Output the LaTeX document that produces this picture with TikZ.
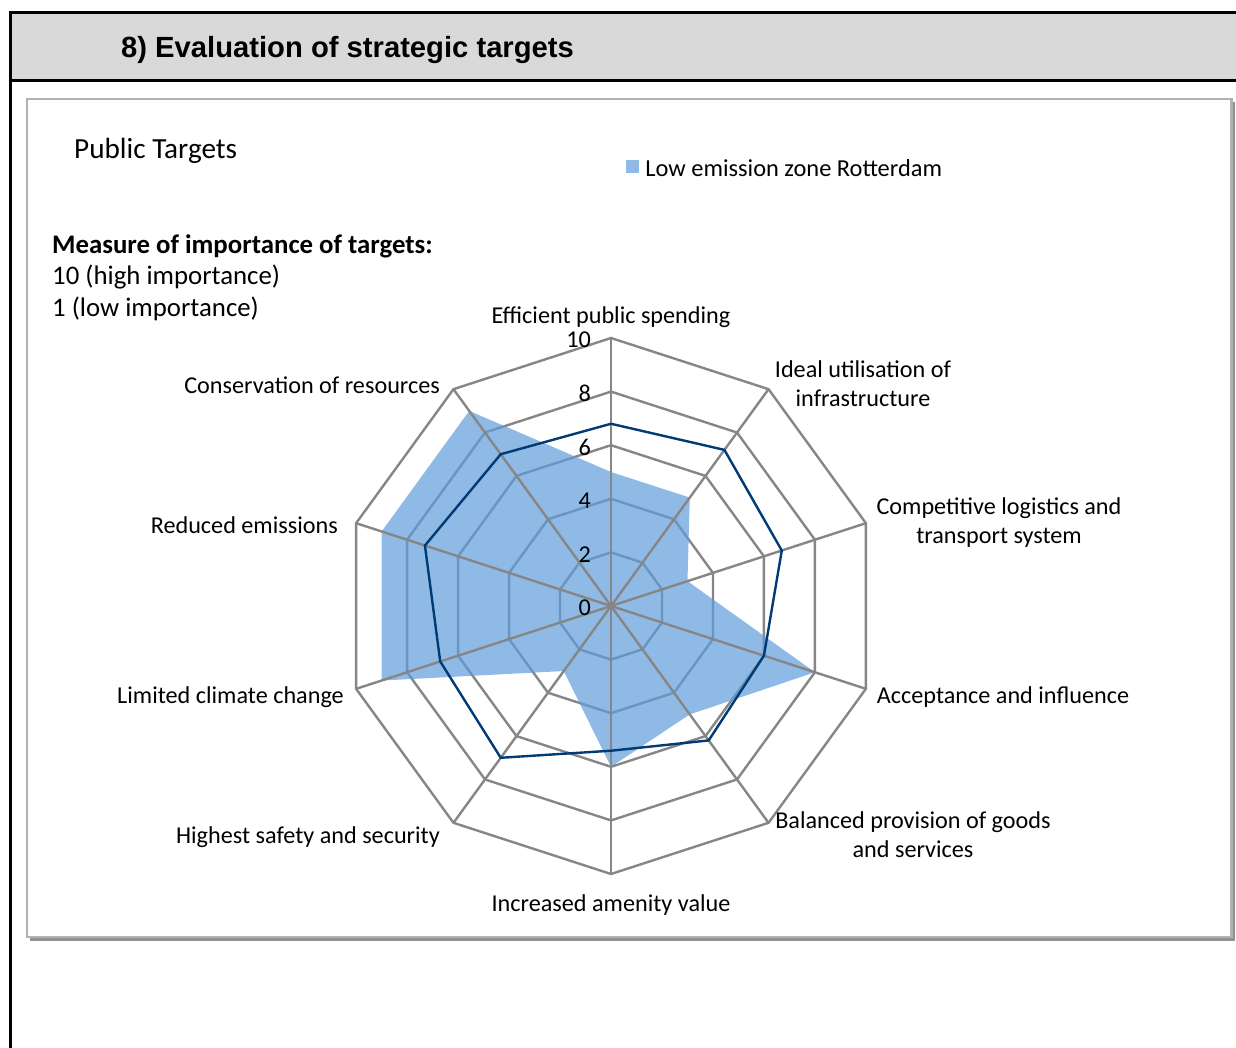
\documentclass[tikz,border=0pt]{standalone}
\usepackage{fontspec}
\setmainfont{Carlito}
\newfontfamily\headerFont{Liberation Sans}
\usetikzlibrary{positioning}
\tikzstyle{pixels} = [x = 1pt, y = -1pt]
\definecolor{gridGrey}{RGB}{134,134,134}
\definecolor{areaBlue}{RGB}{95,156,218}
\definecolor{keyBlue}{RGB}{143,186,229}
\definecolor{lineBlue}{RGB}{0,59,117}
\definecolor{headerGrey}{RGB}{217,217,217}
\definecolor{boxGrey}{RGB}{178,178,178}
\definecolor{shadowGrey}{RGB}{145,145,145}
\tikzstyle{frameLine} = [color=black, line width=3pt]
\tikzstyle{boxLine} = [color=boxGrey, line width=2.5pt]
\tikzstyle{boxShadow} = [color=shadowGrey, line width=2.5pt]
\tikzstyle{gridLine} = [color=gridGrey, line width=2.4pt, line join=miter]
\tikzstyle{areaFill} = [fill=areaBlue, fill opacity=0.7]
\tikzstyle{scoreLine} = [color=lineBlue, line width=2.4pt, line join=miter]
\tikzstyle{plainText} = [inner sep=0pt, yshift=-2pt]
\tikzstyle{axisLabel} = [plainText, font=\fontsize{24.2}{29}\selectfont, align=center]
\tikzstyle{tickLabel} = [plainText, font=\fontsize{24.2}{28}\selectfont, anchor=east]
\newcommand{\unitRadius}{26.8}
\newcommand{\ring}[1]{\draw [gridLine] (-90:#1) \foreach \k in {1,...,9} {-- ({36*\k-90}:#1)} -- cycle;}
\newcommand{\spoke}[1]{\draw [gridLine] (0,0) -- ({36*#1-90}:268);}

\begin{document}
\begin{tikzpicture}[pixels]
  \useasboundingbox (0,0) rectangle (1236,1048);

  % header band and outer frame
  \fill [headerGrey] (10,13) rectangle (1240,80.5);
  \draw [frameLine] (1240,13) -- (10,13) -- (10,1052);
  \draw [frameLine] (10,80.5) -- (1240,80.5);
  \node (title) [plainText, anchor=west, font=\headerFont\bfseries\fontsize{29.2}{33}\selectfont] at (121,48) {8) Evaluation of strategic targets};

  % chart box
  \draw [boxShadow] (30,939.5) -- (1234,939.5) -- (1234,102);
  \draw [boxLine] (27,99) rectangle (1231.5,937);

  \node (chartTitle) [plainText, anchor=west, font=\fontsize{29.2}{33}\selectfont] at (74,149) {Public Targets};
  \node (legendKey) [fill=keyBlue, minimum size=13pt, inner sep=0pt] at (632.5,166.5) {};
  \node (legendText) [plainText, right=6pt of legendKey, font=\fontsize{24.4}{28}\selectfont] {Low emission zone Rotterdam};
  \node (importance) [plainText, anchor=west, align=left, font=\fontsize{26.8}{31.5}\selectfont] at (52,275.5) {\textbf{Measure of importance of targets:}\\10 (high importance)\\1 (low importance)};

  % radar chart
  \begin{scope}[shift={(611,606)}]
    \foreach \level in {1,...,5} {
      \pgfmathsetmacro{\var}{53.6 * \level}
      \ring{\var}
    }
    \fill [areaFill] (-90:{\unitRadius*5}) \foreach \k/\v in {1/5,2/3,3/8,4/5,5/6,6/3,7/9,8/9,9/9} {-- ({36*\k-90}:{\unitRadius*\v})} -- cycle;
    \foreach \k in {0,...,9} {
      \spoke{\k}
    }
    \draw [scoreLine] (-90:{\unitRadius*6.8}) \foreach \k/\v in {1/7.2,2/6.7,3/6,4/6.2,5/5.4,6/7,7/6.7,8/7.3,9/7} {-- ({36*\k-90}:{\unitRadius*\v})} -- cycle;
    \foreach \level in {0,...,5} {
      \pgfmathtruncatemacro{\tick}{2 * \level}
      \node (tick\tick) [tickLabel] at (-20, {-53.6*\level}) {\tick};
    }
  \end{scope}

  % axis labels
  \node (spending) [axisLabel] at (611,315) {Efficient public spending};
  \node (utilisation) [axisLabel] at (863,381.5) {Ideal utilisation of\\infrastructure};
  \node (logistics) [axisLabel] at (999,520.5) {Competitive logistics and\\transport system};
  \node (acceptance) [axisLabel] at (1003,695) {Acceptance and influence};
  \node (provision) [axisLabel] at (913,832.5) {Balanced provision of goods\\and services};
  \node (amenity) [axisLabel] at (611,903) {Increased amenity value};
  \node (safety) [axisLabel, anchor=east] at (440,835) {Highest safety and security};
  \node (climate) [axisLabel, anchor=east] at (344,695) {Limited climate change};
  \node (emissions) [axisLabel, anchor=east] at (338,523) {Reduced emissions};
  \node (resources) [axisLabel, anchor=east] at (440,383) {Conservation of resources};
\end{tikzpicture}
\end{document}
